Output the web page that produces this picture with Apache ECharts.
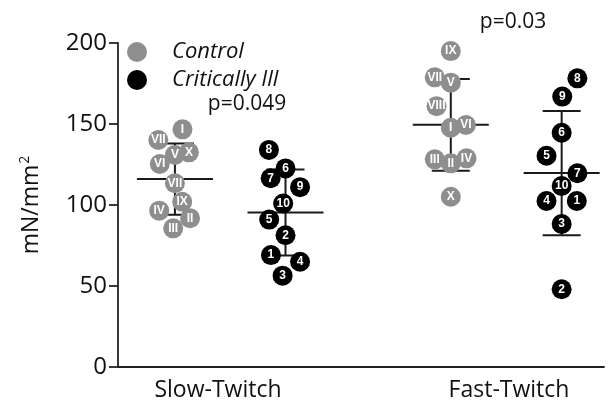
<!DOCTYPE html>
<html>
<head>
<meta charset="utf-8">
<script src="https://cdn.jsdelivr.net/npm/echarts@6/dist/echarts.min.js"></script>
<style>html,body{margin:0;padding:0;background:#fff}#chart{width:610px;height:408px}</style>
</head>
<body>
<div id="chart"></div>
<script>
// ---- data ----
const categories = ['Slow-Twitch', 'Fast-Twitch'];
const yTicks = [0, 50, 100, 150, 200];

// Slow-Twitch
const slowControlLabels = ['I', 'VII', 'V', 'X', 'VI', 'VII', 'IX', 'IV', 'II', 'III'];
const slowControlValues = [146.7, 140.1, 130.9, 132.5, 125.3, 113.4, 102.0, 96.5, 91.8, 85.6];
const slowIllLabels = ['8', '6', '7', '9', '10', '5', '2', '1', '4', '3'];
const slowIllValues = [134.0, 122.6, 116.5, 111.0, 100.9, 91.0, 81.3, 69.1, 65.0, 56.4];

// Fast-Twitch
const fastControlLabels = ['IX', 'VII', 'V', 'VIII', 'I', 'VI', 'III', 'II', 'IV', 'X'];
const fastControlValues = [195.0, 178.8, 175.5, 161.0, 147.7, 149.4, 128.2, 125.7, 128.8, 105.1];
const fastIllLabels = ['8', '9', '6', '5', '7', '10', '4', '1', '3', '2'];
const fastIllValues = [178.2, 166.9, 144.6, 130.4, 119.6, 111.7, 102.5, 102.5, 88.3, 48.0];

// mean and SD bars: [slow, fast]
const controlMeans = [116.0, 149.5];
const controlSDs = [22.0, 28.3];
const illMeans = [95.4, 119.7];
const illSDs = [26.5, 38.3];

const pValues = ['p=0.049', 'p=0.03'];

// ---- layout (positions in x-axis units, category centres at 1 and 2) ----
const controlX = [0.852, 1.800];
const illX = [1.232, 2.181];
const slowControlJitter = [0.026, -0.057, 0, 0.048, -0.052, 0, 0.025, -0.054, 0.052, -0.006];
const slowIllJitter = [-0.057, 0, -0.051, 0.050, -0.008, -0.056, 0, -0.050, 0.050, -0.010];
const fastControlJitter = [0, -0.055, 0, -0.049, 0, 0.052, -0.055, 0, 0.054, 0];
const fastIllJitter = [0.054, 0.002, 0, -0.052, 0.054, 0, -0.052, 0.052, 0, 0];

function pts(gx, vals, jit, labels) {
  return vals.map((v, i) => ({ value: [gx + jit[i], v], name: labels[i] }));
}
const controlData = pts(controlX[0], slowControlValues, slowControlJitter, slowControlLabels)
  .concat(pts(controlX[1], fastControlValues, fastControlJitter, fastControlLabels));
const illData = pts(illX[0], slowIllValues, slowIllJitter, slowIllLabels)
  .concat(pts(illX[1], fastIllValues, fastIllJitter, fastIllLabels));

const barData = [
  [controlX[0], controlMeans[0], controlSDs[0]],
  [controlX[1], controlMeans[1], controlSDs[1]],
  [illX[0], illMeans[0], illSDs[0]],
  [illX[1], illMeans[1], illSDs[1]]
];

const FONT = '"Open Sans", "DejaVu Sans", sans-serif';
const GRAY = '#8e8e8e';

const chart = echarts.init(document.getElementById('chart'), null, { renderer: 'canvas' });
chart.setOption({
  animation: false,
  grid: { left: 118, right: 6, top: 43, bottom: 41 },
  legend: {
    orient: 'vertical',
    left: 122, top: 36,
    itemWidth: 20, itemHeight: 20, itemGap: 6,
    icon: 'circle',
    selectedMode: false,
    data: ['Control', 'Critically Ill'],
    textStyle: { fontFamily: FONT, fontStyle: 'italic', fontSize: 22, color: '#111', padding: [0, 0, 0, 20] }
  },
  xAxis: {
    type: 'value',
    min: 0.6564, max: 2.3265,
    splitLine: { show: false },
    axisTick: { show: false },
    axisLine: { show: true, onZero: false, lineStyle: { color: '#222', width: 1.8 } },
    axisLabel: {
      customValues: [1, 2],
      formatter: v => categories[Math.round(v) - 1],
      fontFamily: FONT, fontSize: 23, color: '#111', margin: 12
    }
  },
  yAxis: {
    type: 'value',
    min: 0, max: 200, interval: 50,
    splitLine: { show: false },
    axisLine: { show: true, lineStyle: { color: '#222', width: 1.8 } },
    axisTick: { show: true, length: 9, lineStyle: { color: '#222', width: 1.8 } },
    axisLabel: {
      fontFamily: FONT, fontSize: 24, color: '#111', margin: 11,
      customValues: yTicks
    },
    name: '{a|mN/mm}{b|2}',
    nameLocation: 'middle',
    nameRotate: 90,
    nameGap: 74,
    nameTextStyle: {
      fontFamily: FONT, color: '#111',
      rich: {
        a: { fontFamily: FONT, fontSize: 23, color: '#111' },
        b: { fontFamily: FONT, fontSize: 14, color: '#111', verticalAlign: 'top', padding: [0, 0, 12, 1] }
      }
    }
  },
  series: [
    {
      type: 'custom',
      name: 'bars',
      z: 1,
      silent: true,
      data: barData,
      renderItem: function (params, api) {
        const x = api.value(0), m = api.value(1), s = api.value(2);
        const pm = api.coord([x, m]);
        const pt = api.coord([x, m + s]);
        const pb = api.coord([x, m - s]);
        const style = { stroke: '#1a1a1a', lineWidth: 2 };
        return {
          type: 'group',
          children: [
            { type: 'line', shape: { x1: pm[0] - 38, y1: pm[1], x2: pm[0] + 38, y2: pm[1] }, style: style },
            { type: 'line', shape: { x1: pt[0], y1: pt[1], x2: pb[0], y2: pb[1] }, style: style },
            { type: 'line', shape: { x1: pt[0] - 19, y1: pt[1], x2: pt[0] + 19, y2: pt[1] }, style: style },
            { type: 'line', shape: { x1: pb[0] - 19, y1: pb[1], x2: pb[0] + 19, y2: pb[1] }, style: style }
          ]
        };
      }
    },
    {
      type: 'scatter',
      name: 'Control',
      z: 3,
      symbol: 'circle',
      symbolSize: 20,
      itemStyle: { color: GRAY, opacity: 1 },
      emphasis: { disabled: true },
      label: {
        show: true, position: 'inside',
        formatter: p => p.data.name,
        color: '#fff', fontWeight: 'bold', fontSize: 12, fontFamily: '"Liberation Sans", Arial, sans-serif'
      },
      data: controlData
    },
    {
      type: 'scatter',
      name: 'Critically Ill',
      z: 3,
      symbol: 'circle',
      symbolSize: 20,
      itemStyle: { color: '#000', opacity: 1 },
      emphasis: { disabled: true },
      label: {
        show: true, position: 'inside',
        formatter: p => p.data.name,
        color: '#fff', fontWeight: 'bold', fontSize: 12, fontFamily: '"Liberation Sans", Arial, sans-serif'
      },
      data: illData
    }
  ],
  graphic: [
    { type: 'text', style: { x: 247, y: 104, text: pValues[0], font: '21px ' + FONT, fill: '#111', align: 'center', verticalAlign: 'middle' } },
    { type: 'text', style: { x: 513, y: 22, text: pValues[1], font: '21px ' + FONT, fill: '#111', align: 'center', verticalAlign: 'middle' } }
  ]
});
</script>
</body>
</html>
